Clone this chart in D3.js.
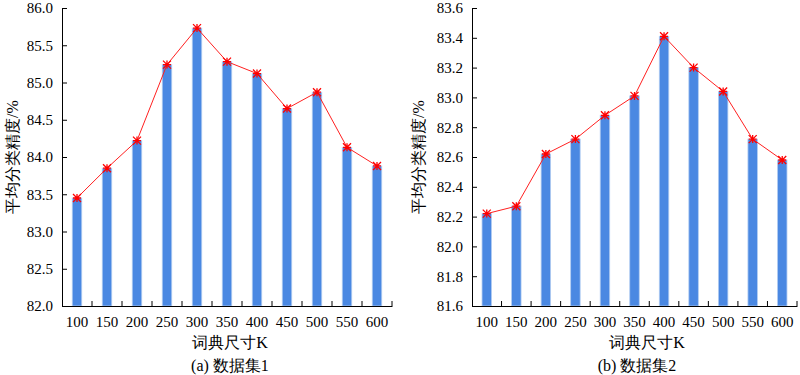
<!DOCTYPE html>
<html>
<head>
<meta charset="utf-8">
<script src="https://cdn.jsdelivr.net/npm/d3@7"></script>
<style>
  html, body { margin: 0; padding: 0; background: #fff; }
  #chart text { font-family: "Liberation Serif", serif; }
</style>
</head>
<body>
<svg id="chart" width="800" height="375"></svg>
<script>
const categories = ["100", "150", "200", "250", "300", "350", "400", "450", "500", "550", "600"];
const values1 = [83.45, 83.85, 84.22, 85.24, 85.73, 85.28, 85.12, 84.65, 84.87, 84.13, 83.88];
const values2 = [82.22, 82.27, 82.62, 82.72, 82.88, 83.01, 83.41, 83.20, 83.04, 82.72, 82.58];
const yTicks1 = [82.0, 82.5, 83.0, 83.5, 84.0, 84.5, 85.0, 85.5, 86.0];
const yTicks2 = [81.6, 81.8, 82.0, 82.2, 82.4, 82.6, 82.8, 83.0, 83.2, 83.4, 83.6];
const yTitle = "平均分类精度/%";
const xTitle = "词典尺寸K";
const captions = ["(a) 数据集1", "(b) 数据集2"];

const svg = d3.select("#chart");

function panel(opts) {
  const { x0, x1, values, ticks, fmt, caption, yTitleX, xTitleX, captionX } = opts;
  const top = 8, bottom = 306;
  const g = svg.append("g");
  const x = d3.scaleBand().domain(categories).range([x0, x1]).paddingInner(0).paddingOuter(0);
  const y = d3.scaleLinear().domain([ticks[0], ticks[ticks.length - 1]]).range([bottom, top]);
  const bw = 9.5;

  g.selectAll("rect.bar").data(values).join("rect")
    .attr("class", "bar")
    .attr("x", (d, i) => x(categories[i]) + x.bandwidth() / 2 - bw / 2)
    .attr("y", d => y(d))
    .attr("width", bw)
    .attr("height", d => bottom - y(d))
    .attr("fill", "#4a88e2")
    .attr("stroke", "#b3cdf2")
    .attr("stroke-width", 0.8);

  const yAxis = d3.axisLeft(y).tickValues(ticks).tickFormat(d3.format(fmt)).tickSize(-5).tickPadding(9);
  const ya = g.append("g").attr("transform", `translate(${x0},0)`).call(yAxis)
    .attr("font-family", null).attr("font-size", null);
  ya.select(".domain").attr("stroke", "#000").attr("stroke-width", 1);
  ya.selectAll(".tick line").attr("stroke", "#000");
  ya.selectAll(".tick text").attr("font-size", 15).attr("fill", "#000");

  const xAxis = d3.axisBottom(x).tickSize(0).tickPadding(10);
  const xa = g.append("g").attr("transform", `translate(0,${bottom})`).call(xAxis)
    .attr("font-family", null).attr("font-size", null);
  xa.select(".domain").attr("stroke", "#000").attr("stroke-width", 1);
  xa.selectAll(".tick text").attr("font-size", 15).attr("dy", "0.75em").attr("fill", "#000");
  xa.selectAll("line.bt").data(categories).join("line")
    .attr("class", "bt")
    .attr("x1", d => x(d) + x.bandwidth())
    .attr("x2", d => x(d) + x.bandwidth())
    .attr("y1", 0).attr("y2", -5)
    .attr("stroke", "#000");

  const line = d3.line().x((d, i) => x(categories[i]) + x.bandwidth() / 2).y(d => y(d));
  g.append("path").datum(values).attr("d", line)
    .attr("fill", "none").attr("stroke", "#ff2020").attr("stroke-width", 1);

  const s = 4;
  const mk = g.selectAll("g.mk").data(values).join("g")
    .attr("class", "mk")
    .attr("transform", (d, i) => `translate(${x(categories[i]) + x.bandwidth() / 2},${y(d)})`);
  mk.append("path")
    .attr("d", `M${-s},${-s}L${s},${s}M${-s},${s}L${s},${-s}M0,${-s}L0,${s}M${-s},0L${s},0`)
    .attr("stroke", "#ff0000").attr("stroke-width", 1.3).attr("fill", "none");

  g.append("text")
    .attr("transform", `translate(${yTitleX},${(top + bottom) / 2}) rotate(-90)`)
    .attr("text-anchor", "middle").attr("dominant-baseline", "central")
    .attr("font-size", 16).text(yTitle);
  g.append("text")
    .attr("x", xTitleX).attr("y", 348)
    .attr("text-anchor", "middle").attr("font-size", 16).text(xTitle);
  g.append("text")
    .attr("x", captionX).attr("y", 371)
    .attr("text-anchor", "middle").attr("font-size", 16).text(caption);
}

panel({ x0: 62, x1: 392, values: values1, ticks: yTicks1, fmt: ".1f", caption: captions[0], yTitleX: 12, xTitleX: 230, captionX: 230 });
panel({ x0: 472, x1: 797, values: values2, ticks: yTicks2, fmt: ".1f", caption: captions[1], yTitleX: 418, xTitleX: 647, captionX: 637 });
</script>
</body>
</html>
